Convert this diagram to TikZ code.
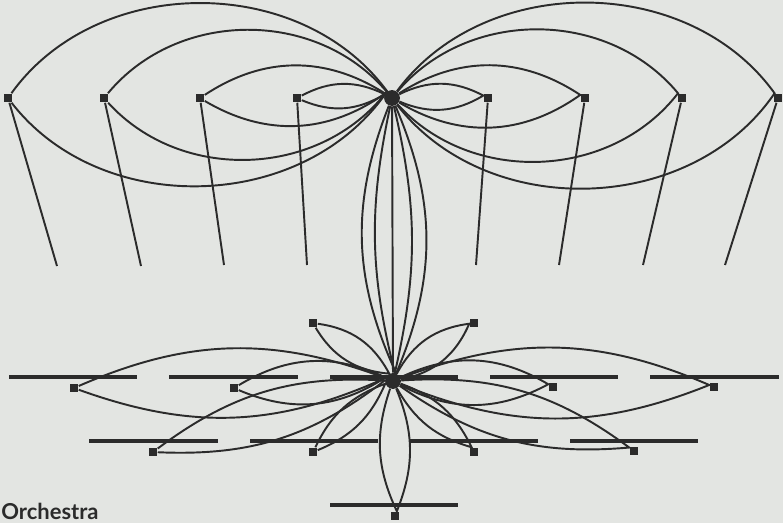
\documentclass[tikz,border=0pt]{standalone}
\usepackage{fontspec}
\setsansfont{Lato}
\definecolor{paper}{HTML}{E3E5E2}
\definecolor{ink}{HTML}{2B2B2B}
\tikzset{
  seat/.style={fill=ink,minimum size=5pt,inner sep=0pt},
  hub/.style={circle,fill=ink,minimum size=9pt,inner sep=0pt},
  wire/.style={ink,line width=1.1pt},
  desk/.style={ink,line width=2.4pt}
}
\newcommand{\lens}[3]{\draw[wire] (#1) to[bend left=#3] (#2) to[bend left=#3] (#1);}

\begin{document}
\begin{tikzpicture}[x=0.02cm,y=-0.02cm]
\fill[paper] (0,0) rectangle (783,523);
\useasboundingbox (0,0) rectangle (783,523);
% upper hall
\node[hub] (top) at (392,98) {};
\node[seat] (t1) at (8,98) {};\node[seat] (t2) at (104,98) {};
\node[seat] (t3) at (200,98) {};\node[seat] (t4) at (297,98) {};
\node[seat] (t5) at (488,98) {};\node[seat] (t6) at (585,98) {};
\node[seat] (t7) at (682,98) {};\node[seat] (t8) at (778,98) {};
\coordinate (f1) at (57,266);\coordinate (f2) at (141,266);
\coordinate (f3) at (224,265);\coordinate (f4) at (307,265);
\coordinate (f5) at (476,265);\coordinate (f6) at (559,265);
\coordinate (f7) at (643,265);\coordinate (f8) at (725,265);
\draw[wire] (t1)--(f1) (t2)--(f2) (t3)--(f3) (t4)--(f4);
\draw[wire] (t5)--(f5) (t6)--(f6) (t7)--(f7) (t8)--(f8);
\lens{t1}{top}{54}\lens{t2}{top}{50}\lens{t3}{top}{33}\lens{t4}{top}{27}
\lens{top}{t5}{27}\lens{top}{t6}{33}\lens{top}{t7}{50}\lens{top}{t8}{54}
% link down to the pit
\node[hub] (pit) at (393,381) {};
\draw[wire] (top)--(pit);
\lens{top}{pit}{13}\lens{top}{pit}{23}
% orchestra desks
\draw[desk] (9,377)--(137,377);\draw[desk] (169,377)--(298,377);
\draw[desk] (330,377)--(458,377);\draw[desk] (490,377)--(618,377);
\draw[desk] (650,377)--(779,377);
\draw[desk] (89,441)--(218,441);\draw[desk] (250,441)--(378,441);
\draw[desk] (410,441)--(538,441);\draw[desk] (570,441)--(698,441);
\draw[desk] (330,505)--(458,505);
% orchestra seats
\node[seat] (u1) at (313,323) {};\node[seat] (u2) at (474,323) {};
\node[seat] (a1) at (74,388) {};\node[seat] (a2) at (234,388) {};
\node[seat] (a3) at (553,387) {};\node[seat] (a4) at (714,387) {};
\node[seat] (b1) at (153,452) {};\node[seat] (b2) at (313,452) {};
\node[seat] (b3) at (474,452) {};\node[seat] (b4) at (634,451) {};
\node[seat] (c1) at (395,516) {};
\lens{u1}{pit}{27}\lens{pit}{u2}{27}
\lens{a1}{pit}{22}\lens{a2}{pit}{28}\lens{pit}{a3}{28}\lens{pit}{a4}{22}
\lens{b1}{pit}{20}\lens{b2}{pit}{22}\lens{pit}{b3}{22}\lens{pit}{b4}{20}
\lens{pit}{c1}{22}
\node[font=\sffamily\bfseries\fontsize{12.5}{14}\selectfont,text=ink,anchor=base west,inner sep=0pt] (name) at (1,519) {Orchestra};
\end{tikzpicture}
\end{document}
